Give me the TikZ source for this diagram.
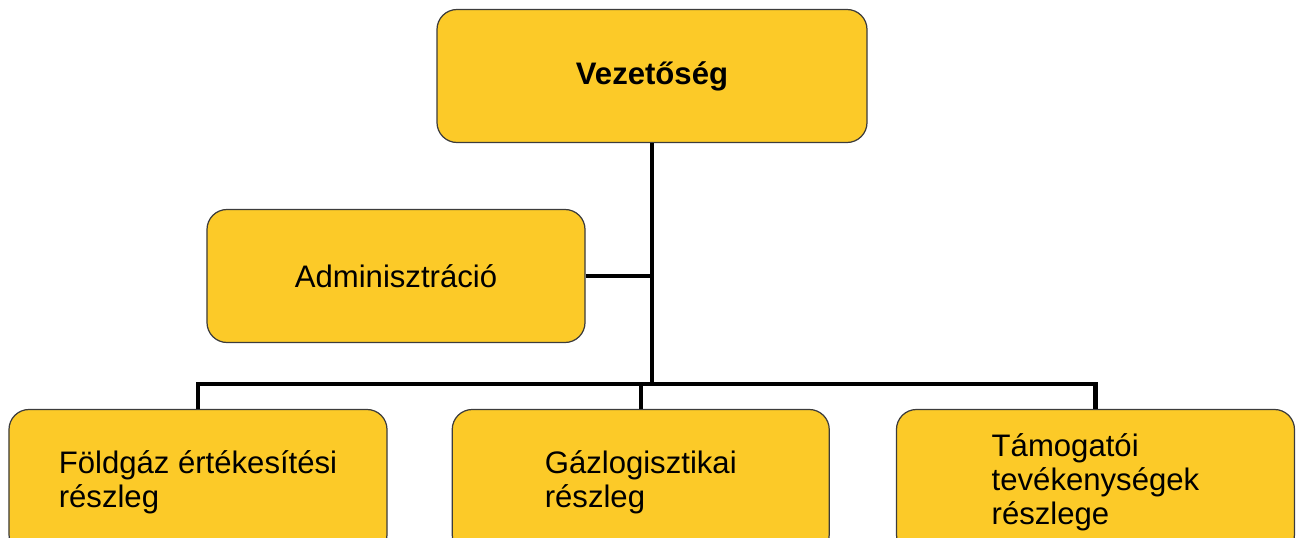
\documentclass[tikz,border=0pt]{standalone}
\usepackage{fontspec}
\setmainfont{Liberation Sans}
\usetikzlibrary{positioning}
\definecolor{unityellow}{RGB}{252,202,40}
\definecolor{unitedge}{RGB}{60,60,60}

\begin{document}
\begin{tikzpicture}[x=0.2mm, y=-0.2mm,
  unit/.style={draw=unitedge, line width=0.7pt, fill=unityellow, rounded corners=4mm, inner sep=0pt, align=left, font=\fontsize{17.7}{19.4}\selectfont},
  link/.style={line width=2.3pt}]

\useasboundingbox (0,0) rectangle (1302,538);

\node[unit, minimum width=86mm, minimum height=26.6mm, font=\fontsize{17.7}{19.4}\selectfont\bfseries] (lead) at (652,76) {Vezetőség};
\node[unit, minimum width=75.6mm, minimum height=26.6mm] (admin) at (396,276) {Adminisztráció};
\node[unit, minimum width=75.6mm, minimum height=29mm] (gas) at (198,482) {Földgáz értékesítési\\részleg};
\node[unit, minimum width=75.4mm, minimum height=29mm, right=12.8mm of gas] (logi) {Gázlogisztikai\\részleg};
\node[unit, minimum width=79.6mm, minimum height=29mm, right=13.2mm of logi] (supp) {Támogatói\\tevékenységek\\részlege};

\coordinate (bus) at (652,384);

\draw[link] (lead.south) -- (lead.south |- bus);
\draw[link] (admin.east) -- (admin.east -| lead.south);
\draw[link] (gas.north) |- (bus) -| (supp.north);
\draw[link] (logi.north) -- (logi.north |- bus);

\end{tikzpicture}
\end{document}
